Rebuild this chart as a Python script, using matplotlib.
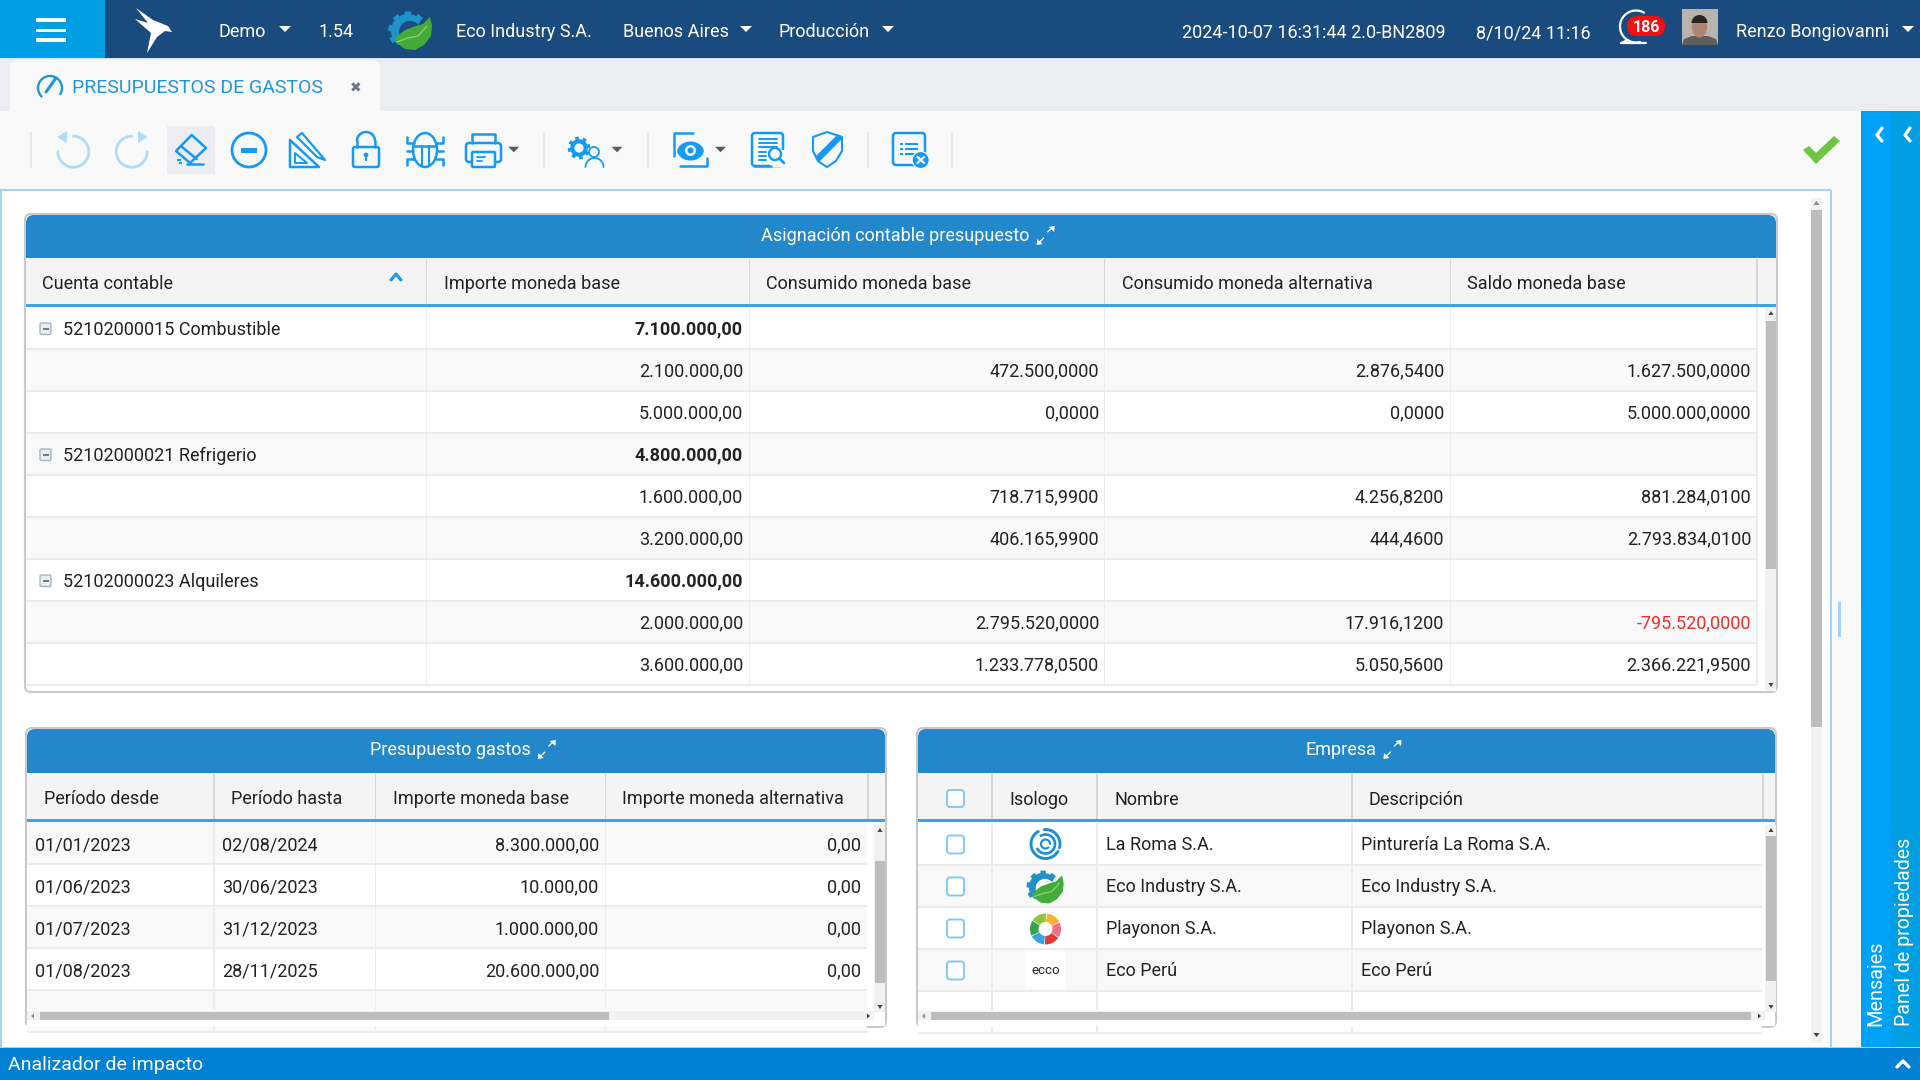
#!/usr/bin/env python3
# -*- coding: utf-8 -*-
import numpy as np
import matplotlib
matplotlib.use("Agg")
import matplotlib.pyplot as plt
from matplotlib.patches import Rectangle, FancyBboxPatch, Circle, Polygon, Ellipse, Wedge

plt.rcParams['font.family'] = ['Roboto', 'DejaVu Sans']

# main table
main_title = "Asignación contable presupuesto"
main_headers = ["Cuenta contable", "Importe moneda base", "Consumido moneda base",
                "Consumido moneda alternativa", "Saldo moneda base"]
main_accounts = ["52102000015 Combustible", "", "", "52102000021 Refrigerio", "", "",
                 "52102000023 Alquileres", "", ""]
main_importe = ["7.100.000,00", "2.100.000,00", "5.000.000,00", "4.800.000,00", "1.600.000,00",
                "3.200.000,00", "14.600.000,00", "2.000.000,00", "3.600.000,00"]
main_consumido = ["", "472.500,0000", "0,0000", "", "718.715,9900", "406.165,9900", "",
                  "2.795.520,0000", "1.233.778,0500"]
main_alternativa = ["", "2.876,5400", "0,0000", "", "4.256,8200", "444,4600", "",
                    "17.916,1200", "5.050,5600"]
main_saldo = ["", "1.627.500,0000", "5.000.000,0000", "", "881.284,0100", "2.793.834,0100", "",
              "-795.520,0000", "2.366.221,9500"]

# budget table
budget_title = "Presupuesto gastos"
budget_headers = ["Período desde", "Período hasta", "Importe moneda base", "Importe moneda alternativa"]
budget_from = ["01/01/2023", "01/06/2023", "01/07/2023", "01/08/2023"]
budget_to = ["02/08/2024", "30/06/2023", "31/12/2023", "28/11/2025"]
budget_base = ["8.300.000,00", "10.000,00", "1.000.000,00", "20.600.000,00"]
budget_alt = ["0,00", "0,00", "0,00", "0,00"]

# company table
company_title = "Empresa"
company_headers = ["Isologo", "Nombre", "Descripción"]
company_names = ["La Roma S.A.", "Eco Industry S.A.", "Playonon S.A.", "Eco Perú"]
company_desc = ["Pinturería La Roma S.A.", "Eco Industry S.A.", "Playonon S.A.", "Eco Perú"]

NAVY = "#1a4b7e"
SKY = "#009fe3"
PANEL = "#2387cc"
ICON = "#149af5"
LINE = "#ececec"
TXT = "#222222"
BAR = "#f9f9f9"
FS = 13.0

fig = plt.figure(figsize=(19.2, 10.8), dpi=100)
ax = fig.add_axes([0, 0, 1, 1])
ax.set_xlim(0, 1920)
ax.set_ylim(1080, 0)
ax.axis("off")


def rect(x0, y0, x1, y1, color, z=1):
    ax.add_patch(Rectangle((x0, y0), x1 - x0, y1 - y0, fc=color, ec="none", zorder=z))


def line(xs, ys, color=ICON, lw=1.8, z=5):
    ax.plot(xs, ys, color=color, lw=lw, zorder=z, solid_capstyle="round", solid_joinstyle="round")


def arc(cx, cy, r, a0, a1, color=ICON, lw=1.8, z=5):
    t = np.radians(np.linspace(a0, a1, 50))
    line(cx + r * np.cos(t), cy - r * np.sin(t), color, lw, z)


def poly(pts, color=ICON, z=5):
    ax.add_patch(Polygon(pts, closed=True, fc=color, ec="none", zorder=z))


def outline(pts, fc="none", ec=ICON, lw=1.8, z=5):
    ax.add_patch(Polygon(pts, closed=True, fc=fc, ec=ec, lw=lw, zorder=z, joinstyle="round"))


def box(x0, y0, x1, y1, r=3, ec=ICON, fc="none", lw=1.8, z=5):
    ax.add_patch(FancyBboxPatch((x0, y0), x1 - x0, y1 - y0, boxstyle=f"round,pad=0,rounding_size={r}",
                                fc=fc, ec=ec, lw=lw, zorder=z))


def txt(x, y, s, ha="left", color=TXT, size=FS, weight="normal", z=6, **kw):
    ax.text(x, y + 6, s, ha=ha, va="baseline", color=color, fontsize=size, fontweight=weight, zorder=z, **kw)


def caret(x, y, color="white", w=6, h=6):
    poly([(x - w, y - h / 2), (x + w, y - h / 2), (x, y + h / 2)], color)


def gear(cx, cy, r, teeth=8, a0=0, a1=360, depth=0.22):
    ts = np.radians(np.linspace(a0, a1, int(abs(a1 - a0)) + 1))
    rs = r * (1 + depth * (np.sin(ts * teeth) > 0))
    return np.c_[cx + rs * np.cos(ts), cy - rs * np.sin(ts)]


def eco_logo(cx, cy, s=1.0):
    gx, gy = cx - 2 * s, cy + 1 * s
    outer = gear(gx, gy, 17 * s, 9, 40, 235, 0.16)
    t = np.radians(np.linspace(235, 40, 40))
    inner = np.c_[gx + 2 * s + 11 * s * np.cos(t), gy + s - 11 * s * np.sin(t)]
    poly(np.r_[outer, inner], "#1f93c8")
    leaf_top = [(cx - 15 * s, cy + 8 * s), (cx - 5 * s, cy + 0 * s), (cx + 6 * s, cy - 4 * s),
                (cx + 13 * s, cy - 6 * s), (cx + 18 * s, cy - 11 * s), (cx + 20 * s, cy - 13 * s)]
    leaf_low = [(cx + 22 * s, cy - 4 * s), (cx + 21 * s, cy + 6 * s), (cx + 14 * s, cy + 15 * s),
                (cx + 5 * s, cy + 20 * s), (cx - 5 * s, cy + 19 * s), (cx - 12 * s, cy + 14 * s)]
    poly(leaf_top + leaf_low, "#43ab38", z=6)
    line([cx - 13 * s, cx - 2 * s, cx + 8 * s, cx + 17 * s], [cy + 12 * s, cy + 8 * s, cy + 6 * s, cy - 4 * s],
         "#8fd07f", 0.9, 7)


def roma_logo(cx, cy):
    c = "#1e8fd5"
    arc(cx, cy, 14.5, 120, 330, c, 2.1)
    arc(cx, cy, 14.5, 345, 465 - 10, c, 2.1)
    arc(cx, cy, 9.5, 210, 480, c, 1.9)
    arc(cx, cy, 4.5, 0, 310, c, 1.6)


def playonon_logo(cx, cy):
    cols = ["#f9b233", "#f0718a", "#e53935", "#3da5dc", "#35a04f", "#8cc63f"]
    for i, c in enumerate(cols):
        ax.add_patch(Wedge((cx, cy), 15.5, i * 60 - 85, i * 60 - 28, width=8.5, fc=c, ec="none", zorder=5))


def panel(x0, x1, y0, y1, title, seps, head_h=45):
    # frame + blue title band + grey column header
    box(x0, y0, x1, y1, 6, "#c9c9c9", "white", 1.5, 2)
    hb = y0 + head_h
    box(x0 + 1, y0 + 1, x1 - 1, hb, 8, "none", PANEL, 0, 3)
    rect(x0 + 1, hb - 10, x1 - 1, hb, PANEL, 3)
    rect(x0 + 1, hb, x1 - 1, hb + 46, "#f4f4f4", 3)
    rect(x0 + 1, hb + 46, x1 - 1, hb + 49, "#3fa0e4", 4)
    for s in seps:
        rect(s - 0.7, hb + 1, s + 0.7, hb + 46, "#d6d6d6", 4)
    t = ax.text((x0 + x1) / 2 - 5.5, y0 + 27, title, ha="center", va="baseline", color="white",
                fontsize=FS, zorder=6)
    fig.canvas.draw()
    bb = t.get_window_extent()
    ix = bb.x1 + 8
    line([ix + 10, ix + 15], [y0 + 18, y0 + 13], "white", 0.9)
    poly([(ix + 17, y0 + 12), (ix + 16.5, y0 + 18), (ix + 11, y0 + 13)], "white")
    line([ix + 1, ix + 6], [y0 + 29, y0 + 24], "white", 0.9)
    poly([(ix - 1, y0 + 31), (ix - 0.5, y0 + 25), (ix + 5, y0 + 30)], "white")


def rows_bg(x0, x1, top, n, h, seps, first_white=True):
    for i in range(n):
        y = top + i * h
        white = (i % 2 == 0) == first_white
        rect(x0 + 1, y, x1 - 1, y + h, "white" if white else "#f9f9f9", 2)
        rect(x0 + 1, y + h - 1.5, x1 - 1, y + h + 0.5, LINE, 3)
    for s in seps:
        rect(s - 0.8, top, s + 0.8, top + n * h, LINE, 3)


def vscroll(x0, x1, y0, y1, t0, t1):
    rect(x0, y0, x1, y1, "#f1f1f1", 4)
    rect(x0 + 1, t0, x1, t1, "#bdbdbd", 5)
    cx = (x0 + x1) / 2 + 0.5
    poly([(cx - 2.5, y0 + 7), (cx + 2.5, y0 + 7), (cx, y0 + 3)], "#444444")
    poly([(cx - 2.5, y1 - 7), (cx + 2.5, y1 - 7), (cx, y1 - 3)], "#444444")


def hscroll(x0, x1, y0, y1, t0, t1):
    rect(x0, y0, x1, y1, "#f1f1f1", 4)
    rect(t0, y0 + 1, t1, y1, "#bdbdbd", 5)
    cy = (y0 + y1) / 2 + 0.5
    poly([(x0 + 7, cy - 2.5), (x0 + 7, cy + 2.5), (x0 + 4, cy)], "#888888")
    poly([(x1 - 7, cy - 2.5), (x1 - 7, cy + 2.5), (x1 - 4, cy)], "#444444")


# page backgrounds
rect(0, 0, 1920, 1080, "white", 0)
rect(0, 58, 1920, 111, "#ecedf0", 1)
rect(0, 111, 1861, 190, BAR, 1)
rect(0, 189, 1831, 190.5, "#a6d2f5", 2)
rect(0, 190, 2, 1048, "#a6d2f5", 2)
rect(1830, 190, 1831.5, 1048, "#a6d2f5", 2)
rect(1831.5, 190, 1861, 1048, BAR, 1)
rect(1838, 602, 1841, 637, "#a6d2f5", 2)

# top bar
rect(0, 0, 1920, 58, NAVY, 2)
rect(0, 58, 1920, 59, "#dfe3e8", 2)
rect(0, 0, 105, 58, SKY, 3)
for yy in [20, 30.5, 40]:
    rect(36, yy - 1.7, 66, yy + 1.7, "white", 4)
poly([(136, 8), (153, 20), (168, 26), (172, 32), (165, 31), (157, 37), (147, 53), (151, 33),
      (135, 19), (148, 23)], "white")
txt(219, 31, "Demo", color="white")
caret(285, 29)
txt(318, 31, "1.54", color="white")
eco_logo(410, 30, 1.0)
txt(456, 31, "Eco Industry S.A.", color="white")
txt(623, 31, "Buenos Aires", color="white")
caret(746, 29)
txt(779, 31, "Producción", color="white")
caret(888, 29)
txt(1182, 32, "2024-10-07 16:31:44 2.0-BN2809", color="white")
txt(1476, 32, "8/10/24 11:16", color="white")
arc(1636, 26.5, 16, 60, 285, "white", 1.6)
line([1628, 1621, 1646], [40, 43, 43], "white", 1.6)
box(1627, 16, 1665, 36, 10, "none", "#f50f0f", 0, 5)
txt(1646, 26, "186", ha="center", color="white", size=11.5, weight="bold")
rect(1682, 9, 1718, 45, "#b8b4ad", 3)
poly([(1682, 45), (1684, 39), (1692, 36), (1708, 36), (1716, 39), (1718, 45)], "#5d5e5a", 4)
ax.add_patch(Ellipse((1699.5, 27), 15, 21, fc="#ad8570", ec="none", zorder=4))
ax.add_patch(Wedge((1699.5, 23), 8, 180, 360, fc="#2b2522", ec="none", zorder=5))
txt(1736, 31, "Renzo Bongiovanni", color="white")
caret(1908, 29)

# tab
box(10, 60, 380, 125, 7, "none", BAR, 0, 2)
arc(50, 88, 12, -30, 225, "#2196d8", 1.7)
line([46, 56], [92, 78], "#2196d8", 2.2)
txt(72, 87, "PRESUPUESTOS DE GASTOS", color="#2196d8", size=14)
txt(356, 86, "✖", ha="center", color="#6b7680", size=10, family=["DejaVu Sans"])

# toolbar
for s in [31, 544, 648, 868, 952]:
    rect(s - 1.2, 132, s + 1.2, 168, "#e8e9ee", 2)
rect(167, 126, 215, 174, "#ebedf0", 2)
# undo / redo
arc(73.3, 151.7, 15.5, 90, -180, "#aedcfb", 2.0)
poly([(57, 137), (67, 131), (67, 143)], "#aedcfb")
arc(131.7, 151.7, 15.5, 90, 360, "#aedcfb", 2.0)
poly([(147.5, 137), (138, 131), (138, 143)], "#aedcfb")
# eraser
outline([(191.7, 135), (206, 148), (190, 163), (176, 151)])
line([181.7, 196.7], [146.7, 159])
line([187, 203], [163.5, 163.5])
rect(177, 159, 181, 160.5, ICON, 5)
rect(179, 162, 182, 163.5, ICON, 5)
# stop
ax.add_patch(Circle((249, 150), 17, fc="none", ec=ICON, lw=2.0, zorder=5))
rect(240.7, 147.7, 257.3, 152.7, ICON, 5)
# ruler and pencil
outline([(290, 140), (319, 167), (290, 167)])
outline([(295, 153), (307, 163), (295, 163)], lw=1.4)
outline([(297, 137), (302, 133), (325, 160), (317, 157)], fc=BAR, lw=1.6, z=6)
# lock
box(353, 147, 379, 167, 2)
arc(366, 141, 9, 0, 180)
line([357, 357], [141, 147])
line([375, 375], [141, 147])
ax.add_patch(Circle((366, 155), 2.4, fc=ICON, ec="none", zorder=6))
rect(365, 155, 367, 161, ICON, 6)
# bug
ax.add_patch(Ellipse((425, 150), 24, 34, fc="none", ec=ICON, lw=1.8, zorder=5))
line([414, 436], [146, 146])
line([421.5, 421.5], [146, 166], lw=1.5)
line([428.5, 428.5], [146, 166], lw=1.5)
line([407, 407, 414], [137, 143, 143])
line([443, 443, 436], [137, 143, 143])
line([407, 413], [151, 151])
line([437, 443], [151, 151])
line([407, 407, 414], [165, 159, 159])
line([443, 443, 436], [165, 159, 159])
# printer
line([472, 472, 495, 495], [143, 134, 134, 143])
box(466, 143, 501, 162, 3)
box(472, 152, 495, 167, 1, fc=BAR, z=6)
line([477, 485], [157, 157], lw=1.3, z=7)
line([477, 482], [160.5, 160.5], lw=1.3, z=7)
caret(513.7, 149.5, "#555b63", 5.5, 5.5)
# gear + user
poly(gear(579, 148, 8.8, 8, 0, 360, 0.28), ICON)
ax.add_patch(Circle((579, 148), 4.6, fc=BAR, ec="none", zorder=6))
ax.add_patch(Circle((594, 152), 5, fc=BAR, ec=ICON, lw=1.3, zorder=6))
arc(594.5, 167, 9, 0, 180, ICON, 1.3, 6)
caret(617, 149.5, "#555b63", 5.5, 5.5)
# eye in a page
line([693, 674, 674], [133, 133, 156])
line([707, 707, 680], [158, 166, 166])
eye_x = np.linspace(677, 704, 30)
eye_h = 9.5 * np.sqrt(1 - ((eye_x - 690.5) / 13.5) ** 2) ** 1.2
poly(np.r_[np.c_[eye_x, 151 - eye_h], np.c_[eye_x[::-1], 151 + eye_h[::-1]]], ICON)
ax.add_patch(Circle((690.5, 150.5), 5.5, fc=BAR, ec="none", zorder=7))
ax.add_patch(Circle((690.5, 150.5), 3, fc=ICON, ec="none", zorder=8))
caret(720.5, 149.5, "#555b63", 5.5, 5.5)
# document search
box(752, 133, 783, 166, 3)
rect(778, 150, 785, 167, BAR, 5.5)
rect(770, 160, 785, 167, BAR, 5.5)
line([771, 752 + 2], [166, 166], z=6)
for yy in [139, 143, 147]:
    line([759, 777], [yy, yy], lw=1.4, z=6)
for yy in [152, 156, 160]:
    line([759, 766], [yy, yy], lw=1.4, z=6)
ax.add_patch(Circle((775, 154), 6, fc=BAR, ec=ICON, lw=1.7, zorder=6))
line([779.5, 784], [158.5, 163], lw=1.9, z=6)
# shield
shield = [(827, 132), (842, 137), (842, 151), (836, 161), (827, 167), (818, 161), (813, 151), (813, 137)]
outline(shield, lw=1.5)
poly([(815, 157), (838, 134), (842, 137), (842, 139), (819, 162)], ICON, 5)
# list with x
box(893, 133, 925, 165, 3)
for yy in [144, 149, 154]:
    rect(899.5, yy - 1.3, 903, yy + 1.3, ICON, 6)
    rect(905, yy - 1.3, 918, yy + 1.3, ICON, 6)
ax.add_patch(Circle((920.7, 160), 8.5, fc=ICON, ec=BAR, lw=0.8, zorder=7))
line([917.5, 924], [157, 163], "white", 1.6, 8)
line([924, 917.5], [157, 163], "white", 1.6, 8)
# ok tick
poly([(1803, 150), (1809, 146), (1816, 153), (1834, 136), (1840, 141), (1816, 164)], "#6cc63f")

# right side panel
rect(1861, 111, 1891, 1048, "#00a2f7", 2)
rect(1891, 111, 1920, 1048, SKY, 2)
for xx in [1882, 1910]:
    line([xx, xx - 5, xx], [128, 135, 141], "white", 2.3)
ax.text(1876, 1026, "Mensajes", rotation=90, ha="center", va="bottom", color="white", fontsize=14.3, zorder=6)
ax.text(1905, 1026, "Panel de propiedades", rotation=90, ha="center", va="bottom", color="white", fontsize=14.1, zorder=6)

# bottom bar
rect(0, 1047, 1920, 1048.5, "#a6d2f5", 3)
rect(0, 1048, 1920, 1080, "#0080d2", 4)
txt(8, 1064, "Analizador de impacto", color="white", size=14)
line([1897, 1903, 1909], [1067, 1061, 1067], "white", 2.4)

# page scrollbar
rect(1811, 198, 1822, 1042, "#f1f1f1", 2)
rect(1811, 210, 1822, 727, "#bdbdbd", 3)
poly([(1813.5, 1033), (1819.5, 1033), (1816.5, 1037)], "#444444", 4)
poly([(1813.5, 205), (1819.5, 205), (1816.5, 201)], "#888888", 4)

# main panel
m_seps = [426.5, 749.5, 1104.5, 1450.5, 1757]
panel(25, 1777, 214, 692, main_title, m_seps, 44)
m_top = 307
rows_bg(25, 1757, m_top, 9, 42.0, m_seps[:-1])
rect(1757, m_top, 1776, 691, "white", 2)
rect(1756, m_top, 1757.5, 685, LINE, 3)
for x, h in zip([42, 444, 766, 1122, 1467], main_headers):
    txt(x, 283, h)
line([391, 396, 401], [280, 274, 280], "#1599ee", 2.2)
for i in range(9):
    cy = m_top + 21 + i * 42.0
    bold = main_accounts[i] != ""
    if bold:
        box(40, cy - 5, 51, cy + 6.5, 1.5, "#a9b4bf", "#e8edf1", 1, 5)
        rect(42.5, cy, 48.5, cy + 1.5, "#6f7c88", 6)
        txt(63, cy + 1, main_accounts[i])
    txt(743, cy, main_importe[i], ha="right", weight="bold" if bold else "normal")
    txt(1099, cy, main_consumido[i], ha="right")
    txt(1444, cy, main_alternativa[i], ha="right")
    color = "#e8302a" if main_saldo[i].startswith("-") else TXT
    txt(1751, cy, main_saldo[i], ha="right", color=color)
vscroll(1765, 1776, 308, 690, 321, 569)

# budget panel
b_seps = [214, 375.5, 605.5, 868]
panel(26, 886, 728, 1027, budget_title, b_seps, 45)
b_top = 822
rows_bg(26, 868, b_top, 5, 42, b_seps[:-1], first_white=False)
rect(868, b_top, 885, 1026, "white", 2)
rect(27, 1010, 885, 1026, "white", 4)
for x, h in zip([44, 231, 393, 622], budget_headers):
    txt(x, 798, h)
for i in range(4):
    cy = b_top + 22 + i * 42
    txt(35, cy, budget_from[i])
    txt(222, cy, budget_to[i])
    txt(599, cy, budget_base[i], ha="right")
    txt(861.5, cy, budget_alt[i], ha="right")
vscroll(874, 885, 825, 1012, 861, 983)
hscroll(27, 874, 1011, 1020, 40, 609)

# company panel
c_seps = [992, 1097, 1352, 1763]
panel(917, 1776, 728, 1027, company_title, c_seps, 45)
c_top = 823
rows_bg(917, 1763, c_top, 5, 42, c_seps[:-1], first_white=True)
rect(1763, c_top, 1775, 1026, "white", 2)
rect(918, 1010, 1775, 1026, "white", 4)
for x, h in zip([1009, 1115, 1369], company_headers):
    txt(x, 799, h)
box(947, 790, 964, 807, 3, "#7cc6f7", "white", 1.3, 5)
for i in range(4):
    cy = c_top + 21.5 + i * 42
    box(947, cy - 9, 964, cy + 9, 3, "#7cc6f7", "white", 1.3, 5)
    txt(1106, cy, company_names[i])
    txt(1361, cy, company_desc[i])
roma_logo(1045.5, 844)
eco_logo(1045, 886.5, 0.85)
playonon_logo(1045.5, 929)
rect(1026, 951, 1065, 990, "white", 4)
txt(1045.5, 968, "ecco", ha="center", size=9.5, color="#222222")
vscroll(1765, 1776, 825, 1012, 836, 981)
hscroll(918, 1765, 1011, 1020, 931, 1751)

fig.savefig("out.png", dpi=100)
